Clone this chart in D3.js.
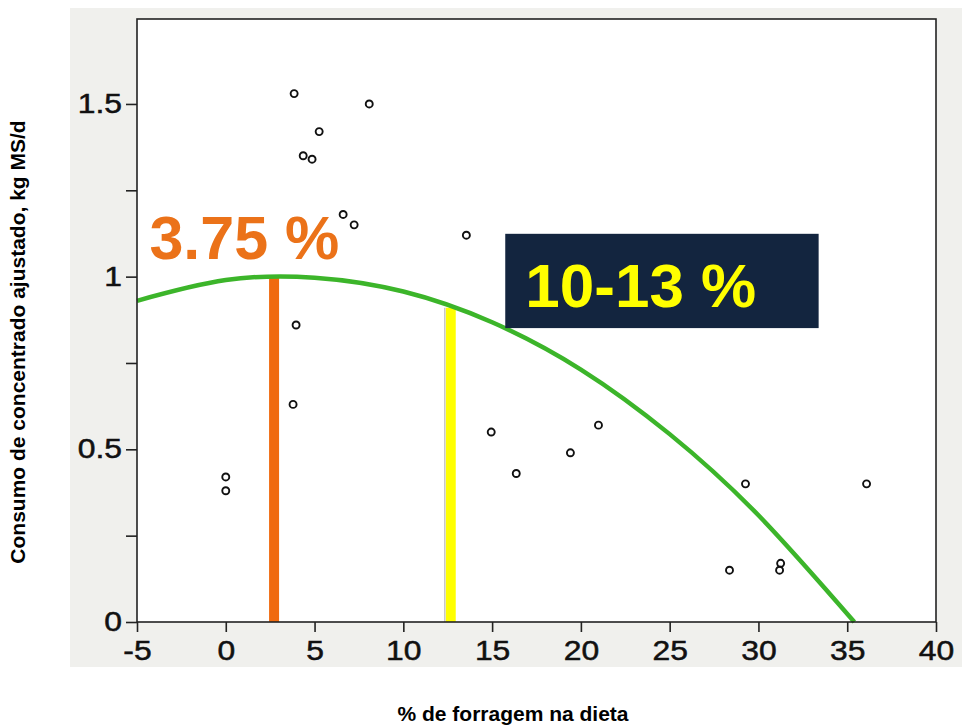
<!DOCTYPE html>
<html>
<head>
<meta charset="utf-8">
<script src="https://cdn.jsdelivr.net/npm/d3@7"></script>
<style>
  body { margin: 0; background: #fff; }
  svg { display: block; font-family: "Liberation Sans", Arial, Helvetica, sans-serif; }
</style>
</head>
<body>
<div id="chart"></div>
<script>
// data
var forragem = [3.85, 8.08, 5.26, 4.36, 4.86, 6.61, 7.23, 13.55, 3.96, 3.79, 0, 0,
    14.95, 16.36, 19.41, 20.99, 29.27, 36.09, 28.37, 31.25, 31.19];
var consumo = [1.53, 1.50, 1.42, 1.35, 1.34, 1.18, 1.15, 1.12, 0.86, 0.63, 0.42, 0.38,
    0.55, 0.43, 0.49, 0.57, 0.40, 0.40, 0.15, 0.17, 0.15];

// fitted curve (green)
var curveX = [-5, 0, 5, 10, 15, 20, 25, 30, 35.4];
var curveY = [0.93, 0.99, 0.997, 0.957, 0.868, 0.731, 0.544, 0.309, 0];

// vertical markers
var markX = [2.72, 12.67];
var markTop = [1.0, 0.91];
var markColor = ["#f06a0f", "#ffff00"];

var xTicks = [-5, 0, 5, 10, 15, 20, 25, 30, 35, 40];
var yTicks = [0, 0.25, 0.5, 0.75, 1, 1.25, 1.5];
var yLabels = {0: "0", 0.5: "0.5", 1: "1", 1.5: "1.5"};

var w = 962;
var h = 726;
var stretch = 1.18; // tick labels look wide in the original

var svg = d3.select("#chart")
    .append("svg")
    .attr("width", w)
    .attr("height", h);

// gray panel
svg.append("rect")
    .attr("x", 70)
    .attr("y", 8)
    .attr("width", w - 70)
    .attr("height", 659)
    .attr("fill", "#f0f0ed");

var pLeft = 137, pRight = 936, pTop = 19, pBottom = 622;

var xScale = d3.scaleLinear()
    .domain([-5, 40])
    .range([pLeft, pRight]);

var yScale = d3.scaleLinear()
    .domain([0, 1.746])
    .range([pBottom, pTop]);

// plot area
svg.append("rect")
    .attr("x", pLeft)
    .attr("y", pTop)
    .attr("width", pRight - pLeft)
    .attr("height", pBottom - pTop)
    .attr("fill", "#fff");

// axes
var xAxis = d3.axisBottom(xScale)
    .tickValues(xTicks)
    .tickSize(10)
    .tickSizeOuter(0)
    .tickPadding(9)
    .tickFormat(function (d) { return String(d); });

var yAxis = d3.axisLeft(yScale)
    .tickValues(yTicks)
    .tickSize(11)
    .tickSizeOuter(0)
    .tickPadding(4)
    .tickFormat(function (d) { return yLabels[d] || ""; });

var gx = svg.append("g")
    .attr("transform", "translate(0," + pBottom + ")")
    .call(xAxis);

var gy = svg.append("g")
    .attr("transform", "translate(" + pLeft + ",0)")
    .call(yAxis);

[gx, gy].forEach(function (g) {
    g.select(".domain").remove();
    g.selectAll(".tick line").attr("stroke", "#222").attr("stroke-width", 1.6);
    g.selectAll(".tick text")
        .attr("fill", "#111")
        .attr("stroke", "#111")
        .attr("stroke-width", 0.5)
        .style("font-size", "27px");
});
gx.selectAll(".tick text").attr("transform", "scale(" + stretch + ",1)");
gy.selectAll(".tick text")
    .attr("x", -15 / stretch)
    .attr("transform", "scale(" + stretch + ",1)");

// markers
svg.selectAll("rect.mark")
    .data(markX)
    .enter()
    .append("rect")
    .attr("class", "mark")
    .attr("x", function (d) { return xScale(d) - 5; })
    .attr("y", function (d, i) { return yScale(markTop[i]); })
    .attr("width", 10)
    .attr("height", function (d, i) { return pBottom - yScale(markTop[i]); })
    .attr("fill", function (d, i) { return markColor[i]; });

svg.append("line")
    .attr("x1", xScale(markX[1]) - 6)
    .attr("x2", xScale(markX[1]) - 6)
    .attr("y1", yScale(markTop[1]))
    .attr("y2", pBottom)
    .attr("stroke", "#c8c8c8")
    .attr("stroke-width", 1.5);

// fitted curve
var line = d3.line()
    .x(function (d) { return xScale(d[0]); })
    .y(function (d) { return yScale(d[1]); })
    .curve(d3.curveNatural);

svg.append("path")
    .datum(curveX.map(function (d, i) { return [d, curveY[i]]; }))
    .attr("d", line)
    .attr("fill", "none")
    .attr("stroke", "#3cb52a")
    .attr("stroke-width", 4.5);

// points
svg.selectAll("circle")
    .data(forragem)
    .enter()
    .append("circle")
    .attr("cx", function (d) { return xScale(d); })
    .attr("cy", function (d, i) { return yScale(consumo[i]); })
    .attr("r", 3.5)
    .attr("fill", "none")
    .attr("stroke", "#111")
    .attr("stroke-width", 1.9);

// frame
svg.append("rect")
    .attr("x", pLeft)
    .attr("y", pTop)
    .attr("width", pRight - pLeft)
    .attr("height", pBottom - pTop)
    .attr("fill", "none")
    .attr("stroke", "#222")
    .attr("stroke-width", 1.6);

// annotations
svg.append("text")
    .attr("x", xScale(-4.3))
    .attr("y", yScale(1.051))
    .attr("fill", "#eb7219")
    .style("font-size", "61px")
    .style("font-weight", "bold")
    .text("3.75 %");

svg.append("rect")
    .attr("x", xScale(15.74))
    .attr("y", yScale(1.124))
    .attr("width", xScale(33.39) - xScale(15.74))
    .attr("height", yScale(0.851) - yScale(1.124))
    .attr("fill", "#13253f");

svg.append("text")
    .attr("x", xScale(16.87))
    .attr("y", yScale(0.912))
    .attr("fill", "#ffff00")
    .style("font-size", "62px")
    .style("font-weight", "bold")
    .text("10-13 %");

// axis titles
svg.append("text")
    .attr("x", 513)
    .attr("y", 721)
    .attr("text-anchor", "middle")
    .style("font-size", "21px")
    .style("font-weight", "bold")
    .text("% de forragem na dieta");

svg.append("text")
    .attr("transform", "translate(25,342) rotate(-90)")
    .attr("text-anchor", "middle")
    .style("font-size", "21px")
    .style("font-weight", "bold")
    .text("Consumo de concentrado ajustado, kg MS/d");
</script>
</body>
</html>
